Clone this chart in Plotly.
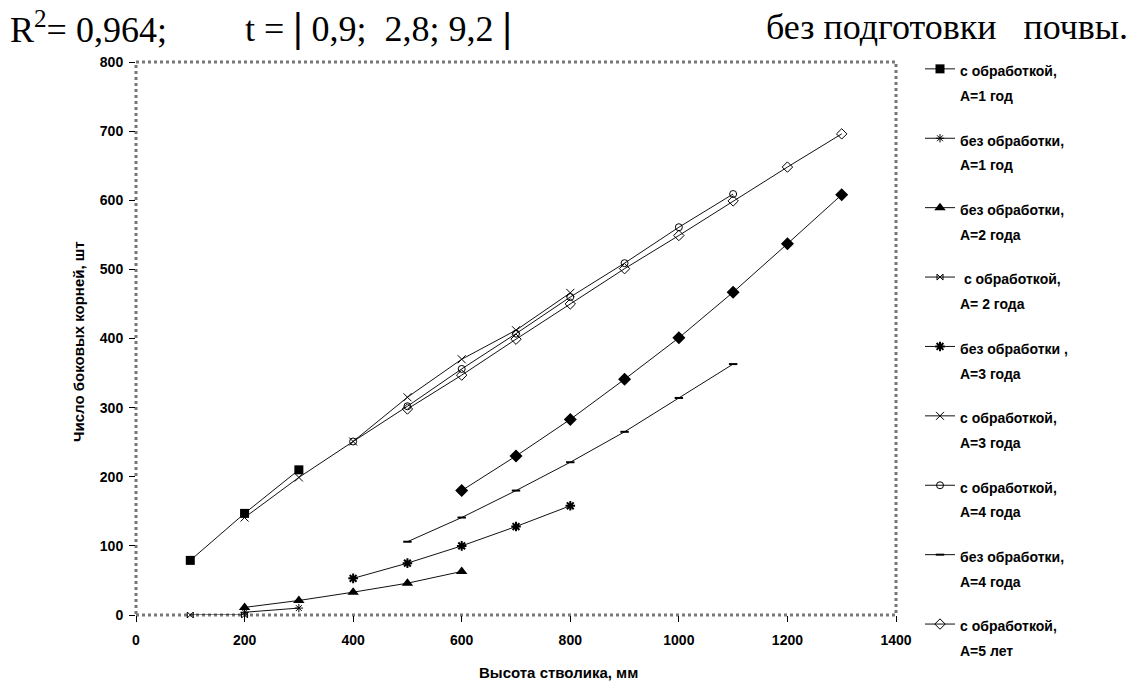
import plotly.graph_objects as go

# ---- data ----
x_s1 = [100, 200, 300]                      # с обработкой, А=1 год
y_s1 = [79, 147, 210]
x_b1 = [200, 300]                           # без обработки, А=1 год
y_b1 = [4, 10]
x_b2 = [200, 300, 400, 500, 600]            # без обработки, А=2 года
y_b2 = [11, 21, 33, 46, 63]
x_s2 = [100, 200]                           # с обработкой, А=2 года
y_s2 = [0, 0]
x_b3 = [400, 500, 600, 700, 800]            # без обработки, А=3 года
y_b3 = [53, 75, 100, 128, 158]
x_s3 = [200, 300, 400, 500, 600, 700, 800]  # с обработкой, А=3 года
y_s3 = [141, 199, 251, 315, 370, 412, 466]
x_s4 = [400, 500, 600, 700, 800, 900, 1000, 1100]   # с обработкой, А=4 года
y_s4 = [251, 302, 356, 407, 460, 509, 561, 609]
x_b4 = [500, 600, 700, 800, 900, 1000, 1100]        # без обработки, А=4 года
y_b4 = [106, 141, 180, 221, 265, 314, 363]
x_s5 = [500, 600, 700, 800, 900, 1000, 1100, 1200, 1300]   # с обработкой, А=5 лет
y_s5 = [298, 347, 399, 450, 501, 549, 599, 648, 696]
x_fd = [600, 700, 800, 900, 1000, 1100, 1200, 1300]         # series without legend entry
y_fd = [180, 230, 283, 341, 401, 467, 537, 608]

x_ticks = [0, 200, 400, 600, 800, 1000, 1200, 1400]
y_ticks = [0, 100, 200, 300, 400, 500, 600, 700, 800]

BLACK = "#000000"
LINE = dict(color="#111111", width=1)

def lg(a, b):
    return f"<span style='font-size:14px'>{a}</span><br><span style='font-size:14px'>{b}</span>"

series = [
    (lg("с обработкой,", "А=1 год"), x_s1, y_s1, dict(symbol="square", size=9, color=BLACK), True),
    (lg("без обработки,", "А=1 год"), x_b1, y_b1, dict(symbol="asterisk-open", size=7, color=BLACK, line=dict(width=1, color=BLACK)), True),
    (lg("без обработки,", "А=2 года"), x_b2, y_b2, dict(symbol="triangle-up", size=10, color=BLACK), True),
    (lg(" с обработкой,", "А= 2 года"), x_s2, y_s2, dict(symbol="bowtie-open", size=6, color=BLACK, line=dict(width=1, color=BLACK)), True),
    (lg("без обработки ,", "А=3 года"), x_b3, y_b3, dict(symbol="asterisk-open", size=8, color=BLACK, line=dict(width=2, color=BLACK)), True),
    (lg("с обработкой,", "А=3 года"), x_s3, y_s3, dict(symbol="x-thin-open", size=8, color=BLACK, line=dict(width=1, color="#333333")), True),
    (lg("с обработкой,", "А=4 года"), x_s4, y_s4, dict(symbol="circle-open", size=7, color=BLACK, line=dict(width=1, color=BLACK)), True),
    (lg("без обработки,", "А=4 года"), x_b4, y_b4, dict(symbol="line-ew-open", size=6, color=BLACK, line=dict(width=2, color=BLACK)), True),
    (lg("с обработкой,", "А=5 лет"), x_s5, y_s5, dict(symbol="diamond-open", size=8, color=BLACK, line=dict(width=1, color=BLACK)), True),
    ("ряд 10", x_fd, y_fd, dict(symbol="diamond", size=10, color=BLACK), False),
]

fig = go.Figure()
for i, (name, xs, ys, mk, show) in enumerate(series):
    fig.add_trace(go.Scatter(
        x=xs, y=ys, mode="lines+markers", name=name, line=LINE, marker=mk,
        showlegend=show, legendgroup=f"g{i}", cliponaxis=False,
    ))

FONT = "Liberation Sans, Arial, sans-serif"
SERIF = "Liberation Serif, Times New Roman, serif"

W, H = 1137, 688
L, R, T, B = 136, 241, 62, 73
pw, ph = W - L - R, H - T - B

def px(x):
    return (x - L) / pw

def py(y):
    return (H - B - y) / ph

fig.update_layout(
    width=W, height=H,
    margin=dict(l=L, r=R, t=T, b=B, autoexpand=False),
    paper_bgcolor="white", plot_bgcolor="white",
    showlegend=True,
    legend=dict(
        xref="container", yref="container",
        x=920 / W, y=1 - 50 / H, xanchor="left", yanchor="top",
        font=dict(family=FONT, size=19, color=BLACK, weight="bold"),
        tracegroupgap=17, itemwidth=30, bgcolor="rgba(0,0,0,0)",
        valign="top", maxheight=686,
    ),
    xaxis=dict(
        range=[0, 1400], tickvals=x_ticks, ticks="outside", ticklen=6,
        tickcolor=BLACK, showgrid=False, zeroline=False, showline=False,
        ticklabelstandoff=6,
        tickfont=dict(family=FONT, size=14, color=BLACK, weight="bold"),
    ),
    yaxis=dict(
        range=[0, 800], tickvals=y_ticks, ticks="outside", ticklen=6,
        tickcolor=BLACK, showgrid=False, zeroline=False, showline=False,
        ticklabelstandoff=3,
        tickfont=dict(family=FONT, size=14, color=BLACK, weight="bold"),
    ),
    shapes=[dict(type="rect", xref="paper", yref="paper", x0=0, y0=0, x1=1, y1=1,
                 line=dict(color="#777777", width=3, dash="dot"), layer="below")],
    annotations=[
        dict(text="Высота стволика, мм", xref="paper", yref="paper",
             x=px(558), y=py(672), xanchor="center", yanchor="middle", showarrow=False,
             font=dict(family=FONT, size=15, color=BLACK, weight="bold")),
        dict(text="Число боковых корней, шт", xref="paper", yref="paper",
             x=px(78), y=py(342), xanchor="center", yanchor="middle", textangle=-90,
             showarrow=False,
             font=dict(family=FONT, size=15, color=BLACK, weight="bold")),
        dict(text="R<sup>2</sup>= 0,964;", xref="paper", yref="paper",
             x=px(8), y=py(27), xanchor="left", yanchor="middle", showarrow=False,
             font=dict(family=SERIF, size=36, color=BLACK)),
        dict(text="t = <span style='font-size:42px'><b>|</b></span> 0,9;  2,8; 9,2 <span style='font-size:42px'><b>|</b></span>",
             xref="paper", yref="paper",
             x=px(243), y=py(27), xanchor="left", yanchor="middle", showarrow=False,
             font=dict(family=SERIF, size=36, color=BLACK)),
        dict(text="без подготовки   почвы.", xref="paper", yref="paper",
             x=px(1130), y=py(27), xanchor="right", yanchor="middle", showarrow=False,
             font=dict(family=SERIF, size=36, color=BLACK)),
    ],
)

fig.write_html("out.html", config={"displayModeBar": False},
               post_script="document.body.style.margin='0';")
